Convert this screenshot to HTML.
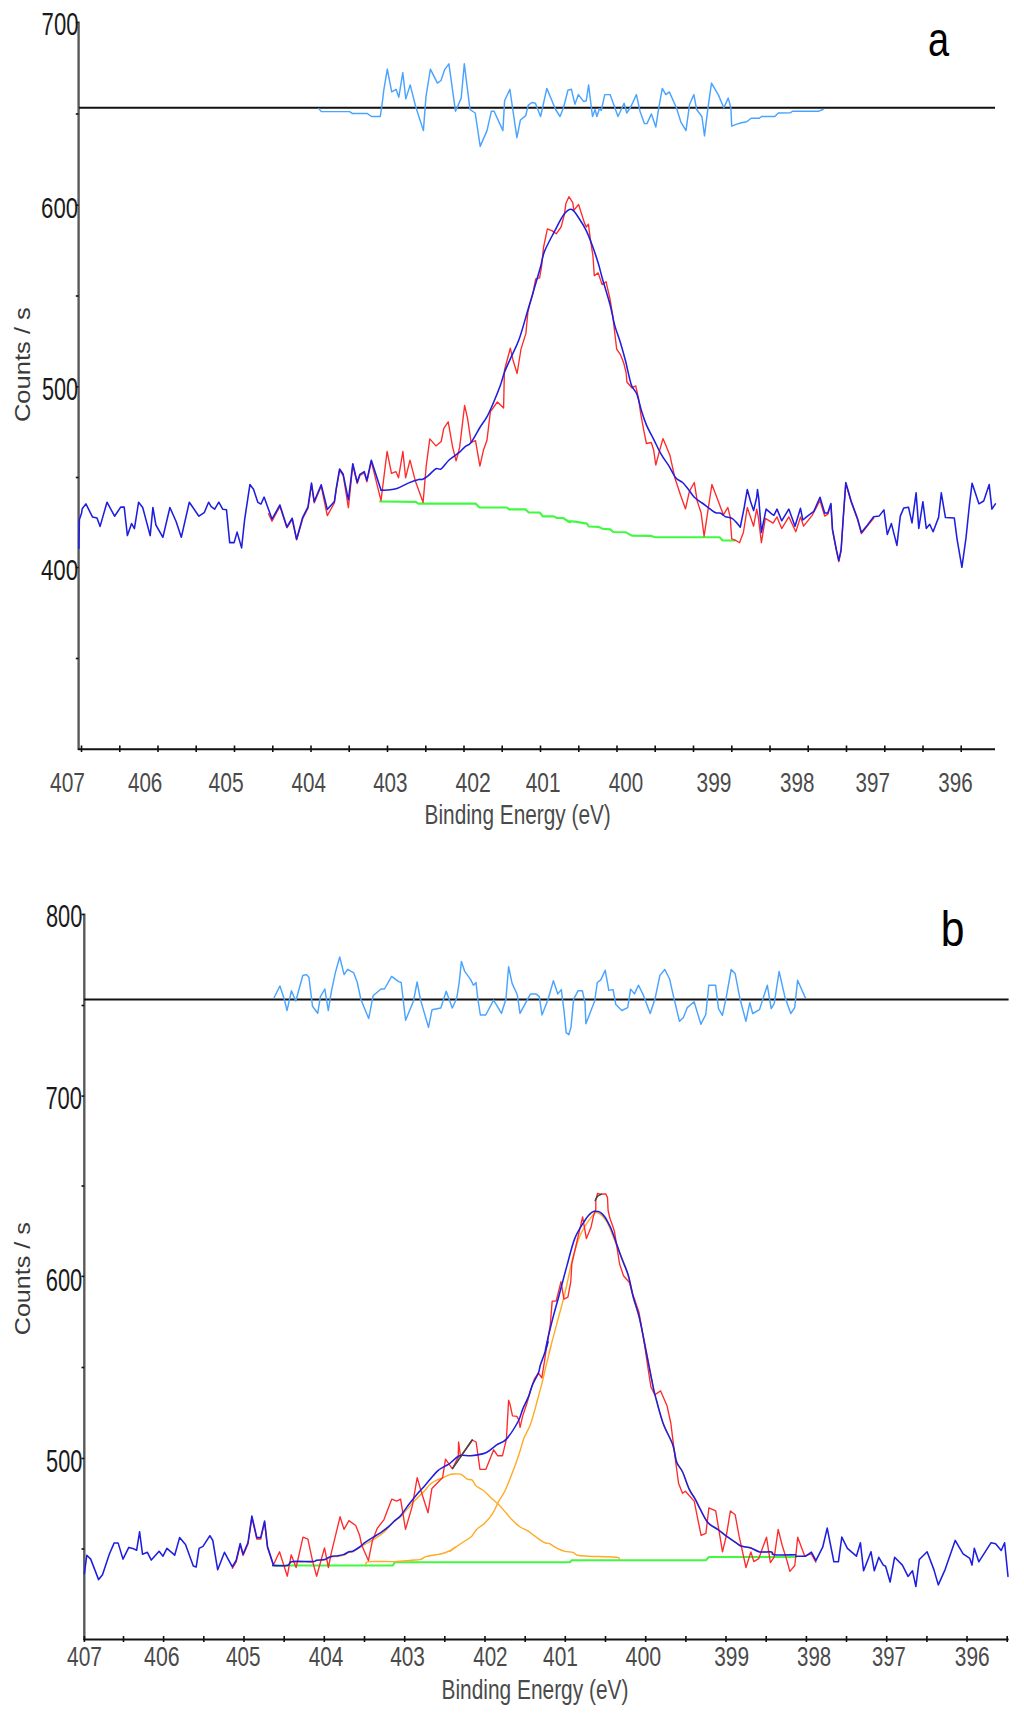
<!DOCTYPE html>
<html><head><meta charset="utf-8"><title>XPS N1s spectra</title>
<style>html,body{margin:0;padding:0;background:#fff;}svg{display:block;}
text{font-family:"Liberation Sans",sans-serif;}</style></head>
<body><svg width="1024" height="1714" viewBox="0 0 1024 1714">
<rect width="1024" height="1714" fill="#fff"/>
<line x1="78.6" y1="21.5" x2="78.6" y2="750" stroke="#5a5a5a" stroke-width="2.4"/>
<line x1="78" y1="749.2" x2="995" y2="749.2" stroke="#111" stroke-width="2"/>
<line x1="81.5" y1="745.5" x2="81.5" y2="752" stroke="#111" stroke-width="1.6"/>
<line x1="119.8" y1="745.5" x2="119.8" y2="752" stroke="#111" stroke-width="1.6"/>
<line x1="158.0" y1="745.5" x2="158.0" y2="752" stroke="#111" stroke-width="1.6"/>
<line x1="196.2" y1="745.5" x2="196.2" y2="752" stroke="#111" stroke-width="1.6"/>
<line x1="234.5" y1="745.5" x2="234.5" y2="752" stroke="#111" stroke-width="1.6"/>
<line x1="272.8" y1="745.5" x2="272.8" y2="752" stroke="#111" stroke-width="1.6"/>
<line x1="311.0" y1="745.5" x2="311.0" y2="752" stroke="#111" stroke-width="1.6"/>
<line x1="349.2" y1="745.5" x2="349.2" y2="752" stroke="#111" stroke-width="1.6"/>
<line x1="387.5" y1="745.5" x2="387.5" y2="752" stroke="#111" stroke-width="1.6"/>
<line x1="425.8" y1="745.5" x2="425.8" y2="752" stroke="#111" stroke-width="1.6"/>
<line x1="464.0" y1="745.5" x2="464.0" y2="752" stroke="#111" stroke-width="1.6"/>
<line x1="502.2" y1="745.5" x2="502.2" y2="752" stroke="#111" stroke-width="1.6"/>
<line x1="540.5" y1="745.5" x2="540.5" y2="752" stroke="#111" stroke-width="1.6"/>
<line x1="578.8" y1="745.5" x2="578.8" y2="752" stroke="#111" stroke-width="1.6"/>
<line x1="617.0" y1="745.5" x2="617.0" y2="752" stroke="#111" stroke-width="1.6"/>
<line x1="655.2" y1="745.5" x2="655.2" y2="752" stroke="#111" stroke-width="1.6"/>
<line x1="693.5" y1="745.5" x2="693.5" y2="752" stroke="#111" stroke-width="1.6"/>
<line x1="731.8" y1="745.5" x2="731.8" y2="752" stroke="#111" stroke-width="1.6"/>
<line x1="770.0" y1="745.5" x2="770.0" y2="752" stroke="#111" stroke-width="1.6"/>
<line x1="808.2" y1="745.5" x2="808.2" y2="752" stroke="#111" stroke-width="1.6"/>
<line x1="846.5" y1="745.5" x2="846.5" y2="752" stroke="#111" stroke-width="1.6"/>
<line x1="884.8" y1="745.5" x2="884.8" y2="752" stroke="#111" stroke-width="1.6"/>
<line x1="923.0" y1="745.5" x2="923.0" y2="752" stroke="#111" stroke-width="1.6"/>
<line x1="961.2" y1="745.5" x2="961.2" y2="752" stroke="#111" stroke-width="1.6"/>
<line x1="75.8" y1="22.5" x2="78.6" y2="22.5" stroke="#111" stroke-width="1.6"/>
<line x1="75.8" y1="114" x2="78.6" y2="114" stroke="#111" stroke-width="1.6"/>
<line x1="75.8" y1="205.2" x2="78.6" y2="205.2" stroke="#111" stroke-width="1.6"/>
<line x1="75.8" y1="296" x2="78.6" y2="296" stroke="#111" stroke-width="1.6"/>
<line x1="75.8" y1="386.8" x2="78.6" y2="386.8" stroke="#111" stroke-width="1.6"/>
<line x1="75.8" y1="477.5" x2="78.6" y2="477.5" stroke="#111" stroke-width="1.6"/>
<line x1="75.8" y1="567.5" x2="78.6" y2="567.5" stroke="#111" stroke-width="1.6"/>
<line x1="75.8" y1="658.5" x2="78.6" y2="658.5" stroke="#111" stroke-width="1.6"/>
<line x1="79" y1="107.7" x2="995" y2="107.7" stroke="#111" stroke-width="2"/>
<text transform="translate(41.60,35.29) scale(0.7136,1)" font-size="30.95" fill="#1a1a1a">700</text>
<text transform="translate(41.09,218.00) scale(0.7290,1)" font-size="30.39" fill="#1a1a1a">600</text>
<text transform="translate(41.92,399.59) scale(0.7057,1)" font-size="30.67" fill="#1a1a1a">500</text>
<text transform="translate(40.89,579.90) scale(0.7365,1)" font-size="30.25" fill="#1a1a1a">400</text>
<text transform="translate(29.78,422.08) rotate(-90) scale(1.1375,1)" font-size="22.45" fill="#3a3a3a">Counts / s</text>
<text transform="translate(50.03,791.93) scale(0.7686,1)" font-size="27.28" fill="#4a4a4a">407</text>
<text transform="translate(127.94,791.93) scale(0.7549,1)" font-size="27.28" fill="#4a4a4a">406</text>
<text transform="translate(208.53,791.93) scale(0.7709,1)" font-size="27.28" fill="#4a4a4a">405</text>
<text transform="translate(291.54,791.93) scale(0.7549,1)" font-size="27.28" fill="#4a4a4a">404</text>
<text transform="translate(373.14,791.93) scale(0.7572,1)" font-size="27.28" fill="#4a4a4a">403</text>
<text transform="translate(455.52,791.93) scale(0.7778,1)" font-size="27.28" fill="#4a4a4a">402</text>
<text transform="translate(525.73,791.93) scale(0.7640,1)" font-size="27.28" fill="#4a4a4a">401</text>
<text transform="translate(608.74,791.93) scale(0.7549,1)" font-size="27.28" fill="#4a4a4a">400</text>
<text transform="translate(696.53,791.93) scale(0.7686,1)" font-size="27.28" fill="#4a4a4a">399</text>
<text transform="translate(780.04,791.93) scale(0.7549,1)" font-size="27.28" fill="#4a4a4a">398</text>
<text transform="translate(855.54,791.93) scale(0.7549,1)" font-size="27.28" fill="#4a4a4a">397</text>
<text transform="translate(938.24,791.93) scale(0.7549,1)" font-size="27.28" fill="#4a4a4a">396</text>
<text transform="translate(424.58,824.28) scale(0.7555,1)" font-size="27.56" fill="#4a4a4a">Binding Energy (eV)</text>
<text transform="translate(927.89,55.62) scale(0.7912,1)" font-size="47.85" fill="#000">a</text>
<polyline points="318.8,108.6 321.4,111.6 349.6,111.6 352.2,113.4 367.1,113.4 371.5,116.5 380.3,116.5 382.1,104.2 383.8,90.2 387.3,69.1 391.7,91.9 396.1,89.3 398.8,97.2 402.8,72.6 405.8,98.9 410.2,84.9 415.5,106.0 423.4,130.6 426.0,96.3 430.4,69.1 437.4,83.1 441.0,80.5 444.5,69.9 448.9,63.8 455.5,111.2 461.2,98.1 464.3,63.8 470.0,109.5 475.2,113.0 480.2,146.4 487.0,130.6 491.4,111.2 494.1,111.2 502.9,130.6 504.6,100.7 509.9,89.3 512.5,107.7 516.9,137.6 520.4,120.0 525.7,115.6 528.3,105.1 531.9,102.5 535.4,103.3 540.6,116.5 546.8,88.4 555.6,109.5 560.0,116.5 563.5,107.7 567.9,90.2 571.4,89.3 574.9,104.2 578.4,94.6 583.7,101.6 586.3,100.7 588.6,84.9 592.5,116.5 595.1,109.5 596.9,116.5 599.5,108.6 601.3,110.4 604.8,94.6 610.1,94.6 613.6,104.2 618.0,116.5 624.1,103.3 626.8,113.0 631.2,106.0 636.4,94.6 640.0,111.2 644.4,123.6 647.0,123.6 651.4,113.9 655.8,127.1 658.8,107.7 662.3,88.4 665.8,94.6 669.3,91.9 676.4,107.7 680.8,121.8 686.0,130.6 689.6,104.2 693.9,94.6 696.6,109.5 701.9,116.5 704.5,135.9 708.0,107.7 711.5,83.1 718.6,95.4 723.8,107.7 728.2,98.1 730.9,107.7 731.7,126.2 736.1,124.4 741.4,122.7 746.7,121.8 751.1,118.3 759.0,118.3 761.6,116.5 774.8,116.5 778.3,113.0 790.6,112.7 792.4,111.2 818.8,111.2 823.1,109.5" fill="none" stroke="#4aa4ff" stroke-width="1.45" stroke-linejoin="round" stroke-linecap="round"/>
<polyline points="380.1,501.5 416.1,501.9 417.9,503.6 475.6,503.6 479.5,507.5 506.9,507.5 509.2,509.4 525.6,509.4 528.8,512.5 539.7,512.5 542.8,516.4 553.8,516.4 556.9,518.0 563.1,518.0 570.0,522.3 567.3,521.0 575.2,521.6 586.9,523.6 588.8,526.5 598.6,526.9 602.5,528.8 610.3,529.4 613.2,532.0 625.9,532.3 631.8,535.7 651.3,535.9 655.2,537.2 719.7,537.2 722.6,540.5 735.3,540.5" fill="none" stroke="#40fa40" stroke-width="2.1" stroke-linejoin="round" stroke-linecap="round"/>
<polyline points="268.5,513.8 272.0,521.2 279.9,506.4 286.9,527.9 292.2,519.5 296.6,539.8 302.7,518.8 308.0,508.2 311.5,484.3 314.2,502.9 321.2,486.1 327.3,515.6 334.4,502.9 336.1,490.6 339.6,470.2 343.2,475.5 348.4,507.7 352.8,465.0 357.2,483.6 359.9,475.5 364.3,473.0 366.9,481.8 371.3,461.4 381.0,500.6 387.1,451.4 391.5,473.4 395.9,471.6 398.5,477.8 402.9,451.4 405.6,477.8 410.0,460.2 415.2,480.4 423.1,502.4 426.2,466.1 429.8,438.9 435.9,445.9 441.2,441.5 443.8,428.3 448.2,421.8 452.6,446.8 456.1,460.9 459.6,447.7 461.4,432.7 464.6,405.5 467.6,418.7 471.1,442.4 475.5,440.6 479.9,466.1 483.4,450.3 486.9,440.6 490.4,411.6 497.4,402.0 503.6,408.1 504.4,370.5 510.3,348.1 513.2,360.8 517.1,373.5 521.0,349.1 525.9,333.4 527.9,312.0 529.8,304.1 532.7,294.4 535.7,278.8 539.6,277.8 541.5,267.0 543.5,247.5 547.4,228.9 552.3,230.9 556.2,233.8 561.1,227.0 564.4,214.3 565.9,203.6 568.9,196.7 572.8,202.6 573.8,210.4 578.6,204.5 584.5,223.1 586.4,227.0 588.4,224.1 590.4,239.7 592.9,255.3 594.3,275.8 598.2,272.9 602.1,284.6 606.0,281.7 609.9,298.3 612.8,315.9 614.8,333.4 616.7,349.1 620.6,354.9 623.6,362.7 626.1,372.5 626.9,382.0 631.8,387.8 635.7,385.9 638.6,398.6 640.6,413.2 643.5,428.8 646.4,443.5 651.3,442.5 653.7,450.3 655.8,465.0 659.1,452.3 663.0,438.6 669.9,455.2 674.8,477.7 680.6,495.2 685.5,508.9 689.4,491.3 694.3,482.5 697.2,501.1 701.1,512.8 704.1,536.2 707.0,516.7 711.9,484.5 716.8,497.2 722.6,512.8 723.1,515.3 727.8,507.5 730.2,516.9 731.7,538.8 735.6,540.3 739.5,542.7 743.4,532.5 747.3,507.5 753.6,526.2 756.7,509.1 758.3,516.9 761.4,542.7 765.3,518.4 773.1,523.1 777.0,516.9 781.7,528.6 788.8,516.9 795.8,531.7 800.5,516.9 803.6,526.2 812.2,515.3 820.0,500.5 824.7,516.1 827.8,514.1 830.9,504.7 832.5,530.5 836.4,550.8 838.8,561.7 841.1,550.8 843.4,516.4 845.8,483.6 851.2,502.3 857.5,519.5 861.4,533.6 867.5,525.9 873.7,518.1" fill="none" stroke="#ff2a2a" stroke-width="1.35" stroke-linejoin="round" stroke-linecap="round"/>
<polyline points="78.8,548.4 79.4,519.5 81.6,513 82.2,508.8 85.9,503.9 92.6,517.1 97.0,518.0 100.1,526.4 107.0,502.2 114.6,516.2 120.7,507.1 124.2,507.1 127.4,535.6 131.6,523.6 134.4,528.6 138.6,502.2 142.7,507.5 150.2,535.6 152.9,507.5 155.9,525.0 162.9,537.3 169.9,507.5 176.1,521.5 181.3,537.3 189.3,502.2 198.9,516.2 204.2,512.7 208.6,502.2 211.2,506.6 214.7,509.2 218.8,502.2 222.7,509.2 226.5,509.7 229.7,542.6 234.1,542.6 237.1,532.1 241.6,547.9 244.6,519.8 249.9,484.6 253.5,489.2 257.9,502.4 260.9,504.2 264.1,497.1 272.0,519.1 279.9,505.0 286.9,527.0 292.2,518.2 296.6,539.3 302.7,517.3 308.0,506.8 311.5,483.1 314.2,501.5 321.2,484.8 327.3,509.4 334.4,501.5 336.1,489.2 339.6,469.0 343.2,474.3 348.4,499.8 352.8,463.7 357.2,482.2 359.9,474.3 364.3,471.6 366.9,480.4 371.3,460.2 381.0,490.1" fill="none" stroke="#1e1ee0" stroke-width="1.55" stroke-linejoin="round" stroke-linecap="round"/>
<path d="M381.0,490.1 C382.0,490.1 384.3,490.4 387.1,490.1 C389.9,489.8 394.2,489.5 397.7,488.3 C401.2,487.1 404.7,484.6 408.2,483.1 C411.7,481.7 416.4,480.2 418.8,479.6 C421.2,479.0 421.2,479.9 422.7,479.3 C424.2,478.7 425.8,477.6 428.0,475.8 C430.2,474.1 433.7,470.0 435.9,468.8 C438.1,467.6 439.0,470.3 441.2,468.8 C443.4,467.3 446.0,462.8 449.1,460.0 C452.2,457.2 457.0,454.3 459.6,452.1 C462.2,449.9 463.0,448.4 464.9,446.8 C466.8,445.2 468.6,445.6 471.1,442.4 C473.6,439.2 477.3,431.8 479.9,427.5 C482.5,423.2 484.7,420.9 486.9,416.9 C489.1,412.9 490.7,409.0 493.0,403.7 C495.3,398.4 498.6,390.2 500.5,385.0 C502.4,379.8 502.6,377.2 504.4,372.5 C506.2,367.8 508.8,362.4 511.2,356.9 C513.6,351.4 516.3,347.1 519.1,339.3 C521.9,331.5 525.5,318.1 527.9,310.0 C530.3,301.9 531.6,297.7 533.7,290.5 C535.8,283.3 538.7,273.5 540.5,267.0 C542.3,260.5 542.2,257.2 544.5,251.4 C546.8,245.6 551.0,238.1 554.2,231.9 C557.5,225.7 561.1,218.1 564.0,214.3 C566.9,210.6 569.2,208.6 571.8,209.4 C574.4,210.2 577.2,215.6 579.6,219.2 C582.0,222.8 584.3,226.5 586.4,230.9 C588.5,235.3 590.3,240.1 592.3,245.5 C594.3,250.9 596.4,257.2 598.2,263.1 C600.0,269.0 601.0,273.9 603.0,280.7 C605.0,287.5 607.9,296.6 609.9,304.1 C611.9,311.6 613.0,319.1 614.8,325.6 C616.6,332.1 618.8,337.3 620.6,343.2 C622.4,349.1 623.7,353.8 625.5,360.8 C627.3,367.8 629.5,379.5 631.4,385.0 C633.3,390.5 635.0,389.3 636.7,393.7 C638.4,398.1 640.0,406.0 641.6,411.2 C643.2,416.4 644.5,420.3 646.4,424.9 C648.3,429.5 650.8,433.7 653.3,438.6 C655.8,443.5 658.5,449.6 661.1,454.2 C663.7,458.8 666.5,462.0 668.9,465.9 C671.3,469.8 673.4,474.9 675.7,477.7 C678.0,480.5 680.5,480.6 682.6,482.5 C684.7,484.4 686.5,486.9 688.4,489.4 C690.3,491.8 692.0,494.9 694.3,497.2 C696.6,499.5 699.5,501.1 702.1,503.0 C704.7,504.9 707.6,507.3 709.9,508.9 C712.2,510.5 714.0,512.1 715.8,512.8 C717.6,513.5 719.1,512.6 720.7,513.2 C722.3,513.9 723.5,515.8 725.5,516.7 C727.5,517.6 729.9,517.0 732.4,518.7 C734.9,520.4 739.0,525.6 740.3,527.0" fill="none" stroke="#1e1ee0" stroke-width="1.55" stroke-linejoin="round" stroke-linecap="round"/>
<polyline points="740.3,527.0 744.2,507.5 747.3,489.5 750.5,501.2 753.6,510.6 756.7,497.3 757.5,489.5 758.8,498.9 761.4,532.5 766.1,509.1 771.6,513.8 773.9,515.3 777.0,509.1 781.7,520.8 788.8,509.1 795.0,526.2 800.5,508.3 802.8,520.0 807.5,516.1 813.8,511.4 820.0,497.3 824.7,513.0 827.8,513.0 830.9,503.6 832.5,529.4 836.4,549.7 838.8,560.6 841.1,549.7 843.4,515.3 845.8,482.5 851.2,501.2 857.5,518.4 861.4,532.5 867.5,524.9 873.7,516.7 879.1,516.1 883.9,509.9 887.3,534.5 891.4,523.6 896.9,545.4 900.3,516.1 903.8,507.9 908.5,507.2 912.0,522.9 916.1,492.8 918.8,528.4 922.9,501.7 926.3,528.4 929.7,524.3 933.1,531.8 938.6,517.4 941.3,492.8 945.4,517.4 954.3,518.1 957.1,539.3 961.9,567.3 966.0,537.9 969.4,505.1 972.1,483.2 978.9,503.8 983.7,501.0 989.2,484.6 991.9,509.2 995.4,503.8" fill="none" stroke="#1e1ee0" stroke-width="1.55" stroke-linejoin="round" stroke-linecap="round"/>
<line x1="84.3" y1="913.4" x2="84.3" y2="1640" stroke="#5a5a5a" stroke-width="2.4"/>
<line x1="83.5" y1="1639.4" x2="1008.6" y2="1639.4" stroke="#111" stroke-width="2"/>
<line x1="84.4" y1="1636" x2="84.4" y2="1642" stroke="#111" stroke-width="1.6"/>
<line x1="123.5" y1="1636" x2="123.5" y2="1642" stroke="#111" stroke-width="1.6"/>
<line x1="163.6" y1="1636" x2="163.6" y2="1642" stroke="#111" stroke-width="1.6"/>
<line x1="203.8" y1="1636" x2="203.8" y2="1642" stroke="#111" stroke-width="1.6"/>
<line x1="244.0" y1="1636" x2="244.0" y2="1642" stroke="#111" stroke-width="1.6"/>
<line x1="284.2" y1="1636" x2="284.2" y2="1642" stroke="#111" stroke-width="1.6"/>
<line x1="324.3" y1="1636" x2="324.3" y2="1642" stroke="#111" stroke-width="1.6"/>
<line x1="364.5" y1="1636" x2="364.5" y2="1642" stroke="#111" stroke-width="1.6"/>
<line x1="404.7" y1="1636" x2="404.7" y2="1642" stroke="#111" stroke-width="1.6"/>
<line x1="444.8" y1="1636" x2="444.8" y2="1642" stroke="#111" stroke-width="1.6"/>
<line x1="485.0" y1="1636" x2="485.0" y2="1642" stroke="#111" stroke-width="1.6"/>
<line x1="525.2" y1="1636" x2="525.2" y2="1642" stroke="#111" stroke-width="1.6"/>
<line x1="565.3" y1="1636" x2="565.3" y2="1642" stroke="#111" stroke-width="1.6"/>
<line x1="605.5" y1="1636" x2="605.5" y2="1642" stroke="#111" stroke-width="1.6"/>
<line x1="645.7" y1="1636" x2="645.7" y2="1642" stroke="#111" stroke-width="1.6"/>
<line x1="685.9" y1="1636" x2="685.9" y2="1642" stroke="#111" stroke-width="1.6"/>
<line x1="726.0" y1="1636" x2="726.0" y2="1642" stroke="#111" stroke-width="1.6"/>
<line x1="766.2" y1="1636" x2="766.2" y2="1642" stroke="#111" stroke-width="1.6"/>
<line x1="806.4" y1="1636" x2="806.4" y2="1642" stroke="#111" stroke-width="1.6"/>
<line x1="846.5" y1="1636" x2="846.5" y2="1642" stroke="#111" stroke-width="1.6"/>
<line x1="886.7" y1="1636" x2="886.7" y2="1642" stroke="#111" stroke-width="1.6"/>
<line x1="926.9" y1="1636" x2="926.9" y2="1642" stroke="#111" stroke-width="1.6"/>
<line x1="967.0" y1="1636" x2="967.0" y2="1642" stroke="#111" stroke-width="1.6"/>
<line x1="1007.2" y1="1636" x2="1007.2" y2="1642" stroke="#111" stroke-width="1.6"/>
<line x1="81.5" y1="914.5" x2="84.3" y2="914.5" stroke="#111" stroke-width="1.6"/>
<line x1="81.5" y1="1005.5" x2="84.3" y2="1005.5" stroke="#111" stroke-width="1.6"/>
<line x1="81.5" y1="1096.1" x2="84.3" y2="1096.1" stroke="#111" stroke-width="1.6"/>
<line x1="81.5" y1="1186" x2="84.3" y2="1186" stroke="#111" stroke-width="1.6"/>
<line x1="81.5" y1="1276.4" x2="84.3" y2="1276.4" stroke="#111" stroke-width="1.6"/>
<line x1="81.5" y1="1367.5" x2="84.3" y2="1367.5" stroke="#111" stroke-width="1.6"/>
<line x1="81.5" y1="1458.5" x2="84.3" y2="1458.5" stroke="#111" stroke-width="1.6"/>
<line x1="81.5" y1="1549" x2="84.3" y2="1549" stroke="#111" stroke-width="1.6"/>
<line x1="84" y1="999.6" x2="1008.6" y2="999.6" stroke="#111" stroke-width="2"/>
<text transform="translate(45.91,927.19) scale(0.7119,1)" font-size="30.67" fill="#1a1a1a">800</text>
<text transform="translate(45.40,1109.39) scale(0.7160,1)" font-size="30.67" fill="#1a1a1a">700</text>
<text transform="translate(45.70,1290.59) scale(0.7160,1)" font-size="30.67" fill="#1a1a1a">600</text>
<text transform="translate(46.11,1471.79) scale(0.7066,1)" font-size="30.81" fill="#1a1a1a">500</text>
<text transform="translate(29.57,1335.26) rotate(-90) scale(1.1136,1)" font-size="22.59" fill="#3a3a3a">Counts / s</text>
<text transform="translate(67.03,1666.03) scale(0.7784,1)" font-size="26.86" fill="#4a4a4a">407</text>
<text transform="translate(144.02,1666.03) scale(0.7947,1)" font-size="26.86" fill="#4a4a4a">406</text>
<text transform="translate(226.03,1666.03) scale(0.7715,1)" font-size="26.86" fill="#4a4a4a">405</text>
<text transform="translate(308.73,1666.03) scale(0.7715,1)" font-size="26.86" fill="#4a4a4a">404</text>
<text transform="translate(390.13,1666.03) scale(0.7761,1)" font-size="26.86" fill="#4a4a4a">403</text>
<text transform="translate(473.14,1666.03) scale(0.7691,1)" font-size="26.86" fill="#4a4a4a">402</text>
<text transform="translate(543.03,1666.03) scale(0.7784,1)" font-size="26.86" fill="#4a4a4a">401</text>
<text transform="translate(625.52,1666.03) scale(0.7947,1)" font-size="26.86" fill="#4a4a4a">400</text>
<text transform="translate(714.23,1666.03) scale(0.7784,1)" font-size="26.86" fill="#4a4a4a">399</text>
<text transform="translate(797.04,1666.03) scale(0.7622,1)" font-size="26.86" fill="#4a4a4a">398</text>
<text transform="translate(872.05,1666.03) scale(0.7505,1)" font-size="26.86" fill="#4a4a4a">397</text>
<text transform="translate(954.83,1666.03) scale(0.7784,1)" font-size="26.86" fill="#4a4a4a">396</text>
<text transform="translate(441.48,1698.74) scale(0.7526,1)" font-size="27.77" fill="#4a4a4a">Binding Energy (eV)</text>
<text transform="translate(940.63,945.51) scale(0.8663,1)" font-size="49.25" fill="#000">b</text>
<polyline points="273.8,998.3 279.9,986.0 284.3,999.2 287.0,1010.6 291.4,990.8 295.8,1001.0 302.8,975.5 306.3,974.6 308.9,977.2 312.5,1006.2 317.7,1013.3 320.4,996.6 324.8,989.0 328.3,1010.6 331.4,991.3 335.3,972.9 339.7,957.0 344.1,974.6 347.6,969.3 353.8,972.9 357.3,982.5 360.8,999.2 368.7,1018.6 373.1,995.7 381.0,989.0 384.5,989.0 391.6,976.4 398.6,981.6 401.2,982.5 405.6,1020.3 413.5,1001.0 417.1,982.0 420.6,1000.1 428.5,1027.3 432.0,1009.8 440.8,1008.0 446.2,991.3 452.3,1008.0 456.7,998.3 459.3,981.6 461.4,961.4 464.6,971.1 470.8,979.9 473.4,985.2 476.0,982.5 477.8,999.2 480.4,1015.0 485.7,1015.0 493.6,1000.1 501.5,1013.3 505.9,999.2 508.6,966.7 512.1,983.4 517.3,994.8 520.0,1013.3 530.5,993.9 535.8,993.9 539.3,996.6 542.0,1015.0 548.1,999.2 553.4,980.8 557.8,993.9 561.3,989.6 563.9,1009.8 566.2,1032.6 568.8,1034.7 571.0,1027.3 573.6,999.2 578.0,990.8 582.4,990.8 585.0,1002.7 585.9,1023.8 594.7,1001.0 597.3,982.5 600.8,979.9 605.2,970.2 608.8,990.4 613.1,989.6 615.8,1004.5 621.8,1010.5 627.7,1007.6 630.6,989.1 634.5,993.9 638.4,985.2 643.3,994.9 650.2,1013.5 655.0,998.8 659.9,975.4 664.8,969.5 669.7,979.3 673.6,996.9 679.5,1021.3 683.4,1017.4 687.3,1007.6 694.1,1001.8 700.9,1024.2 705.8,1014.5 708.8,985.2 715.6,985.2 718.5,1008.6 722.4,1015.4 726.3,996.9 731.2,969.5 735.1,973.4 740.0,998.8 745.9,1021.3 749.8,1002.7 752.7,1013.5 759.5,1009.6 767.3,985.2 771.2,1008.6 774.2,1003.7 779.1,971.5 784.9,996.9 790.8,1013.5 794.7,1007.6 797.6,980.3 805.4,997.9" fill="none" stroke="#4aa4ff" stroke-width="1.45" stroke-linejoin="round" stroke-linecap="round"/>
<polyline points="273,1565.5 392.8,1565.5 394.8,1562.2 569.9,1562.2 571.8,1560.2 705.9,1560.2 708.9,1557 796,1557" fill="none" stroke="#40fa40" stroke-width="2.1" stroke-linejoin="round" stroke-linecap="round"/>
<path d="M272.7,1565.5 C275.1,1565.5 284.1,1566.1 287.3,1565.5 C290.6,1564.9 288.0,1562.6 292.2,1562.0 C296.4,1561.4 308.6,1562.2 312.7,1562.0 C316.8,1561.8 314.6,1560.9 316.6,1560.6 C318.6,1560.3 322.2,1560.5 324.5,1560.0 C326.8,1559.5 328.0,1557.9 330.3,1557.3 C332.6,1556.7 335.8,1556.7 338.1,1556.3 C340.4,1555.9 342.2,1555.7 344.0,1555.0 C345.8,1554.3 347.4,1552.9 348.9,1552.4 C350.4,1551.9 351.0,1552.6 352.8,1551.8 C354.6,1551.0 357.2,1549.0 359.6,1547.5 C362.0,1546.0 364.5,1544.7 367.4,1543.0 C370.3,1541.3 374.3,1539.2 377.2,1537.2 C380.1,1535.2 382.4,1533.8 385.0,1531.3 C387.6,1528.8 390.2,1524.9 392.8,1522.5 C395.4,1520.1 398.0,1519.1 400.6,1516.7 C403.2,1514.3 405.8,1510.8 408.4,1507.9 C411.0,1505.0 413.6,1501.9 416.2,1499.1 C418.8,1496.3 421.8,1493.7 424.1,1491.3 C426.4,1488.9 427.9,1486.3 429.9,1484.5 C431.8,1482.7 433.5,1481.7 435.8,1480.5 C438.1,1479.3 441.2,1478.6 443.6,1477.6 C446.0,1476.6 449.0,1474.9 450.4,1474.3 C451.8,1473.7 450.0,1474.2 451.7,1474.2 C453.4,1474.2 457.9,1473.4 460.5,1474.2 C463.1,1475.0 465.4,1478.1 467.3,1479.1 C469.2,1480.1 470.7,1479.0 472.2,1480.1 C473.7,1481.2 474.2,1484.1 476.1,1485.9 C478.1,1487.7 481.4,1488.8 483.9,1490.8 C486.3,1492.8 488.4,1495.4 490.8,1497.7 C493.2,1500.0 496.0,1501.9 498.6,1504.5 C501.2,1507.1 504.1,1510.7 506.4,1513.3 C508.7,1515.9 510.0,1517.8 512.3,1520.1 C514.6,1522.4 517.5,1525.2 520.1,1527.0 C522.7,1528.8 525.3,1529.3 527.9,1530.9 C530.5,1532.5 532.9,1534.8 535.7,1536.7 C538.5,1538.7 542.2,1541.4 544.5,1542.6 C546.8,1543.8 547.3,1542.6 549.4,1543.6 C551.5,1544.6 554.6,1547.1 557.2,1548.4 C559.8,1549.7 562.4,1550.8 565.0,1551.4 C567.6,1552.1 570.7,1551.7 572.8,1552.3 C574.9,1552.9 575.1,1554.6 577.7,1555.3 C580.3,1556.0 582.0,1555.9 588.4,1556.2 C594.8,1556.5 610.6,1556.7 615.8,1557.2 C621.0,1557.7 619.1,1558.9 619.7,1559.2" fill="none" stroke="#ffaa22" stroke-width="1.4" stroke-linejoin="round" stroke-linecap="round"/>
<path d="M365.5,1564.5 C366.1,1564.0 364.5,1562.1 369.4,1561.6 C374.3,1561.1 387.8,1561.8 394.8,1561.6 C401.8,1561.4 407.2,1560.5 411.4,1560.2 C415.6,1559.9 417.8,1560.2 420.2,1559.6 C422.6,1559.0 423.4,1557.5 426.0,1556.7 C428.6,1555.9 433.2,1555.3 435.8,1554.8 C438.4,1554.3 439.3,1554.4 441.6,1553.8 C443.9,1553.2 447.2,1552.0 449.5,1550.9 C451.8,1549.8 455.2,1546.9 455.3,1547.0 C455.4,1547.1 449.1,1551.8 449.8,1551.4 C450.5,1551.0 455.9,1547.0 459.5,1544.5 C463.1,1542.0 468.4,1539.1 471.2,1536.7 C474.0,1534.3 473.8,1532.2 476.1,1529.9 C478.4,1527.6 482.1,1525.8 484.9,1523.0 C487.7,1520.2 490.4,1516.9 492.7,1513.3 C495.0,1509.7 496.6,1505.2 498.6,1501.6 C500.6,1498.0 502.6,1495.7 504.5,1491.8 C506.4,1487.9 508.4,1483.0 510.3,1478.1 C512.2,1473.2 514.6,1467.0 516.2,1462.5 C517.8,1458.0 518.8,1454.9 520.1,1450.8 C521.4,1446.7 522.2,1442.7 524.0,1438.1 C525.8,1433.5 528.6,1429.7 530.8,1423.4 C533.0,1417.1 535.5,1407.2 537.4,1400.3 C539.3,1393.4 540.8,1387.6 542.3,1381.8 C543.8,1376.0 544.7,1371.2 546.2,1365.2 C547.7,1359.2 550.6,1347.8 551.1,1345.6 C551.6,1343.4 548.3,1355.7 549.3,1351.9 C550.3,1348.1 554.5,1332.4 557.1,1322.6 C559.7,1312.8 562.3,1304.0 564.9,1293.3 C567.5,1282.5 570.1,1267.9 572.7,1258.1 C575.3,1248.3 577.5,1241.4 580.5,1234.7 C583.5,1228.0 588.0,1221.8 590.5,1218.1 C593.0,1214.4 594.0,1213.7 595.2,1212.8 C596.4,1211.9 596.4,1212.4 597.5,1212.8 C598.6,1213.2 600.1,1213.8 601.6,1215.2 C603.1,1216.6 604.7,1218.4 606.3,1221.0 C607.9,1223.6 609.1,1226.4 611.0,1231.0 C612.9,1235.6 615.6,1243.2 617.7,1248.4 C619.8,1253.6 621.5,1256.8 623.5,1262.0 C625.5,1267.2 627.8,1273.7 629.4,1279.6 C631.0,1285.5 631.7,1291.0 633.3,1297.2 C634.9,1303.4 637.3,1309.5 639.1,1316.7 C640.9,1323.9 642.4,1332.1 644.0,1340.2 C645.6,1348.3 647.4,1358.0 648.9,1365.5 C650.4,1373.0 651.8,1380.1 652.8,1385.1 C653.8,1390.1 653.5,1389.3 655.2,1395.6 C656.9,1401.9 660.1,1414.8 663.0,1423.0 C665.9,1431.2 670.4,1438.0 672.7,1444.5 C675.0,1451.0 675.0,1457.5 676.6,1462.0 C678.2,1466.5 680.4,1467.2 682.5,1471.8 C684.6,1476.4 687.2,1484.9 689.3,1489.4 C691.4,1494.0 693.4,1495.8 695.2,1499.1 C697.0,1502.3 698.0,1505.0 700.1,1508.9 C702.2,1512.8 705.0,1519.2 707.9,1522.6 C710.8,1526.0 714.6,1527.1 717.7,1529.4 C720.8,1531.7 723.5,1534.1 726.4,1536.2 C729.3,1538.3 732.8,1540.5 735.2,1542.1 C737.7,1543.7 738.5,1545.0 741.1,1546.0 C743.7,1547.0 747.8,1547.0 750.9,1548.0 C754.0,1549.0 756.2,1551.2 759.6,1551.9 C763.0,1552.6 769.0,1551.4 771.4,1551.9 C773.8,1552.4 773.8,1554.3 774.3,1554.8" fill="none" stroke="#ffaa22" stroke-width="1.4" stroke-linejoin="round" stroke-linecap="round"/>
<polyline points="232.3,1568.3 236.2,1562.0 240.2,1544.8 243.1,1555.6 248.0,1543.9 251.9,1517.5 256.8,1539.0 260.7,1539.0 264.6,1522.4 267.5,1547.8 273.4,1565.0 279.5,1551.8 287.3,1576.2 291.2,1554.8 296.1,1567.5 303.0,1537.2 307.9,1539.1 312.7,1561.6 316.6,1576.2 324.5,1547.9 328.4,1567.5 331.3,1552.8 340.1,1516.7 344.0,1529.4 348.9,1520.6 355.7,1525.5 359.6,1535.2 361.6,1545.0 368.4,1560.6 372.3,1541.1 377.2,1528.4 384.0,1519.6 391.8,1499.1 396.7,1501.1 400.6,1499.1 405.5,1529.4 412.3,1505.9 417.2,1477.6 421.1,1491.3 428.0,1512.8 431.9,1488.4 442.6,1477.6 445.5,1459.1 452.4,1468.8 458.2,1457.1 458.6,1442.0 460.5,1456.6 472.2,1440.0 476.1,1442.0 480.0,1469.3 485.9,1469.3 493.7,1449.8 497.6,1455.7 502.5,1455.7 506.4,1439.1 508.6,1400.3 510.0,1404.2 512.5,1415.9 516.9,1416.4 518.8,1420.0 520.1,1427.3 522.7,1415.9 526.6,1404.2 530.5,1390.5 534.5,1378.8 538.4,1373.0 541.8,1377.9 544.2,1363.2 546.2,1349.5 548.1,1338.8 547.3,1342.1 550.3,1324.5 552.2,1301.1 556.1,1301.1 558.1,1293.3 561.0,1281.6 563.9,1299.1 567.9,1297.2 570.8,1281.6 571.8,1264.0 582.6,1216.9 586.4,1238.6 591.1,1226.9 593.4,1216.3 595.8,1209.3 595.8,1199.9 597.5,1193.5 600.5,1194.1 605.7,1193.8 607.5,1197.6 608.1,1210.5 609.8,1218.1 612.2,1224.5 614.5,1231.6 619.6,1264.0 623.5,1275.7 629.4,1282.5 632.3,1293.3 635.2,1301.1 639.1,1312.8 641.1,1324.5 645.0,1348.0 647.9,1367.5 650.9,1387.0 654.8,1394.8 660.6,1390.9 666.9,1405.4 670.8,1423.0 673.7,1446.4 675.7,1462.0 678.6,1483.5 682.5,1493.3 685.4,1491.3 694.2,1501.1 698.1,1520.6 701.1,1535.3 705.9,1533.3 708.9,1507.9 715.7,1510.9 722.5,1551.9 726.4,1535.3 730.4,1510.9 735.2,1514.8 739.1,1536.2 746.0,1567.5 750.9,1551.9 753.8,1561.6 758.7,1558.7 766.5,1537.2 770.4,1562.6 774.3,1556.8 778.2,1529.4 782.1,1545.0 787.0,1560.7 789.9,1571.4 794.8,1565.5 797.7,1537.2 804.6,1555.8 811.4,1553.9 815.9,1562.2" fill="none" stroke="#ff2a2a" stroke-width="1.35" stroke-linejoin="round" stroke-linecap="round"/>
<polyline points="84.3,1573.8 86.8,1555.2 90.7,1559.1 98.6,1579.6 102.5,1574.7 109.3,1554.2 114.2,1542.9 118.1,1542.9 123.0,1559.1 128.8,1547.4 132.7,1548.4 136.6,1550.3 139.6,1531.8 142.5,1554.2 147.4,1552.3 151.3,1560.1 159.1,1551.3 163.0,1556.2 166.9,1548.4 174.7,1555.2 179.6,1537.6 185.5,1544.5 193.3,1565.9 196.2,1566.9 199.1,1548.4 203.0,1546.4 209.9,1535.7 212.8,1540.5 217.7,1569.8 224.5,1552.3 232.3,1566.9 236.2,1560.1 240.2,1543.5 243.1,1554.2 248.0,1542.5 251.9,1516.1 256.8,1537.6 260.7,1537.6 264.6,1521.0 267.5,1546.4 273.4,1565.0" fill="none" stroke="#1e1ee0" stroke-width="1.55" stroke-linejoin="round" stroke-linecap="round"/>
<path d="M272.7,1565.5 C275.1,1565.5 284.1,1566.2 287.3,1565.5 C290.6,1564.8 288.0,1562.2 292.2,1561.6 C296.4,1560.9 308.6,1561.8 312.7,1561.6 C316.8,1561.4 314.6,1560.5 316.6,1560.2 C318.6,1559.9 322.2,1560.2 324.5,1559.6 C326.8,1559.0 328.0,1557.3 330.3,1556.7 C332.6,1556.1 335.8,1556.1 338.1,1555.7 C340.4,1555.3 342.2,1555.1 344.0,1554.4 C345.8,1553.8 347.4,1552.3 348.9,1551.8 C350.4,1551.3 351.0,1552.0 352.8,1551.2 C354.6,1550.4 357.5,1548.5 359.6,1547.0 C361.7,1545.5 363.2,1543.7 365.5,1542.1 C367.8,1540.5 370.7,1538.8 373.3,1537.2 C375.9,1535.6 378.5,1534.1 381.1,1532.3 C383.7,1530.5 386.6,1528.4 388.9,1526.4 C391.2,1524.5 392.9,1522.4 394.8,1520.6 C396.8,1518.8 398.3,1518.3 400.6,1515.7 C402.9,1513.1 405.8,1508.4 408.4,1505.0 C411.0,1501.6 413.6,1498.3 416.2,1495.2 C418.8,1492.1 421.8,1489.0 424.1,1486.4 C426.4,1483.8 427.6,1482.2 429.9,1479.6 C432.2,1477.0 435.1,1473.1 437.7,1470.8 C440.3,1468.5 443.5,1467.1 445.5,1465.9 C447.5,1464.7 447.5,1465.2 449.8,1463.5 C452.1,1461.8 455.9,1457.0 459.5,1455.7 C463.1,1454.4 466.8,1456.2 471.2,1455.7 C475.6,1455.2 481.7,1454.5 485.9,1452.7 C490.1,1450.9 493.2,1447.2 496.6,1444.9 C500.0,1442.6 502.8,1443.0 506.4,1439.1 C510.0,1435.2 515.4,1426.5 518.1,1421.5 C520.8,1416.5 521.0,1413.3 522.7,1409.1 C524.5,1404.9 527.0,1400.5 528.6,1396.4 C530.2,1392.3 530.9,1388.6 532.5,1384.7 C534.1,1380.8 537.1,1376.2 538.4,1373.0 C539.7,1369.8 539.3,1368.3 540.3,1365.2 C541.3,1362.1 542.9,1358.3 544.2,1354.4 C545.5,1350.5 547.9,1342.5 548.1,1341.7 C548.3,1341.0 544.7,1353.4 545.4,1349.9 C546.1,1346.4 549.9,1329.7 552.2,1320.6 C554.5,1311.5 556.7,1304.3 559.1,1295.2 C561.5,1286.1 564.3,1275.3 566.9,1265.9 C569.5,1256.5 571.8,1246.1 574.7,1238.6 C577.6,1231.1 582.1,1225.0 584.5,1221.0 C586.9,1217.0 587.8,1216.2 589.3,1214.6 C590.8,1213.0 591.9,1212.1 593.4,1211.6 C594.9,1211.1 596.7,1211.3 598.1,1211.6 C599.5,1211.9 600.4,1212.4 601.6,1213.4 C602.8,1214.4 604.0,1215.8 605.2,1217.5 C606.4,1219.2 607.5,1221.6 608.7,1223.9 C609.9,1226.2 610.1,1225.9 612.2,1231.6 C614.4,1237.3 618.9,1250.8 621.6,1258.1 C624.3,1265.4 626.5,1269.2 628.4,1275.7 C630.3,1282.2 631.5,1290.4 633.3,1297.2 C635.1,1304.0 637.3,1309.5 639.1,1316.7 C640.9,1323.9 642.4,1332.1 644.0,1340.2 C645.6,1348.3 647.4,1358.0 648.9,1365.5 C650.4,1373.0 651.8,1380.1 652.8,1385.1 C653.8,1390.1 653.5,1389.3 655.2,1395.6 C656.9,1401.9 660.1,1414.8 663.0,1423.0 C665.9,1431.2 670.4,1438.0 672.7,1444.5 C675.0,1451.0 675.0,1457.5 676.6,1462.0 C678.2,1466.5 680.4,1467.2 682.5,1471.8 C684.6,1476.4 687.2,1484.9 689.3,1489.4 C691.4,1494.0 693.4,1495.8 695.2,1499.1 C697.0,1502.3 698.0,1505.0 700.1,1508.9 C702.2,1512.8 705.0,1519.2 707.9,1522.6 C710.8,1526.0 714.6,1527.1 717.7,1529.4 C720.8,1531.7 723.5,1534.1 726.4,1536.2 C729.3,1538.3 732.8,1540.5 735.2,1542.1 C737.7,1543.7 738.5,1545.0 741.1,1546.0 C743.7,1547.0 747.8,1547.0 750.9,1548.0 C754.0,1549.0 756.2,1551.2 759.6,1551.9 C763.0,1552.6 769.0,1551.4 771.4,1551.9 C773.8,1552.4 770.2,1554.3 774.3,1554.8 C778.4,1555.3 792.2,1554.8 795.8,1554.8" fill="none" stroke="#1e1ee0" stroke-width="1.55" stroke-linejoin="round" stroke-linecap="round"/>
<polyline points="795.7,1556.2 805.8,1556.2 811.4,1552.1 815.9,1560.6 822.7,1547.2 827.2,1528.1 833.9,1561.8 838.4,1561.8 841.8,1537.1 847.4,1548.3 856.4,1556.2 860.4,1542.7 863.6,1570.8 871.0,1551.7 874.3,1570.8 878.8,1557.3 883.3,1565.1 885.6,1566.3 890.1,1582.0 894.6,1557.3 902.4,1565.1 908.0,1576.4 912.5,1570.8 915.9,1586.5 919.3,1559.5 927.1,1551.7 933.9,1569.6 938.3,1584.9 945.1,1569.6 955.2,1540.4 963.1,1553.9 969.8,1558.4 972.0,1565.1 974.3,1548.3 978.8,1561.8 991.1,1542.7 995.6,1543.8 1001.2,1550.5 1004.6,1542.7 1008.0,1576.4" fill="none" stroke="#1e1ee0" stroke-width="1.55" stroke-linejoin="round" stroke-linecap="round"/>
<polyline points="452.7,1468.4 472.2,1440.0" fill="none" stroke="#444" stroke-width="1.6" stroke-linejoin="round" stroke-linecap="round"/>
<polyline points="595.2,1200.5 597.5,1196.1 601.6,1194.1" fill="none" stroke="#444" stroke-width="1.6" stroke-linejoin="round" stroke-linecap="round"/>
</svg></body></html>
